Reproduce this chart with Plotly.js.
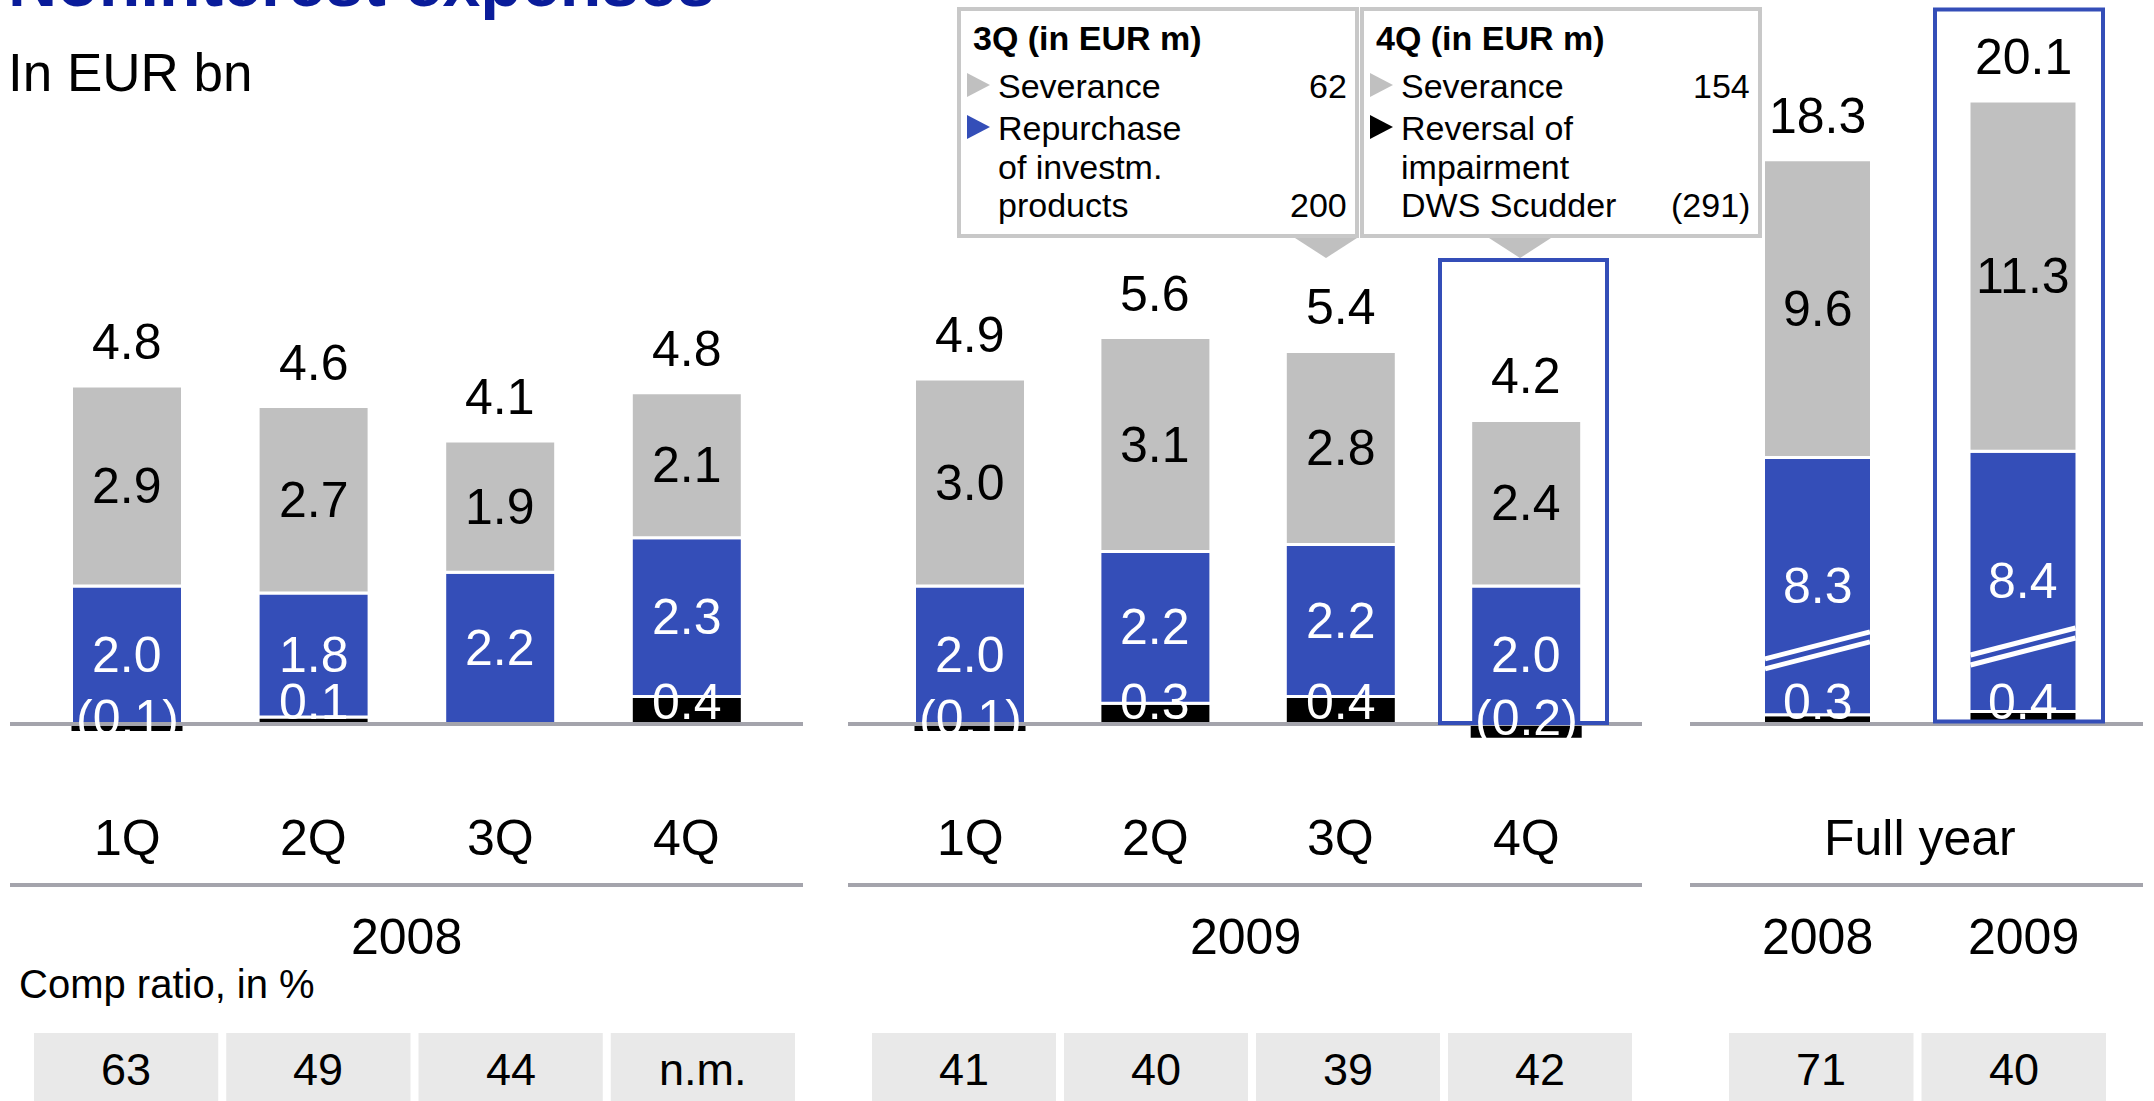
<!DOCTYPE html>
<html><head><meta charset="utf-8">
<script src="https://cdn.plot.ly/plotly-3.0.1.min.js"></script>
<style>html,body{margin:0;padding:0;background:#fff;overflow:hidden}</style>
</head><body><div id="chart" style="width:2154px;height:1101px"></div>
<script>
// ---------------- data ----------------
const quarters = ['1Q', '2Q', '3Q', '4Q'];
const fyYears = ['2008', '2009'];
const fyLabel = 'Full year';

const other2008 = [-0.1, 0.1, 0, 0.4];   // black segment
const comp2008  = [2.0, 1.8, 2.2, 2.3];  // blue segment
const gray2008  = [2.9, 2.7, 1.9, 2.1];  // grey segment
const total2008 = [4.8, 4.6, 4.1, 4.8];

const other2009 = [-0.1, 0.3, 0.4, -0.2];
const comp2009  = [2.0, 2.2, 2.2, 2.0];
const gray2009  = [3.0, 3.1, 2.8, 2.4];
const total2009 = [4.9, 5.6, 5.4, 4.2];

const otherFY = [0.3, 0.4];
const compFY  = [8.3, 8.4];
const grayFY  = [9.6, 11.3];
const totalFY = [18.3, 20.1];

const compRatio2008 = ['63', '49', '44', 'n.m.'];
const compRatio2009 = ['41', '40', '39', '42'];
const compRatioFY   = ['71', '40'];

const note3QTitle  = '3Q (in EUR m)';
const note3QLabels = ['Severance', 'Repurchase', 'of investm.', 'products'];
const note3QValues = ['62', '', '', '200'];
const note4QTitle  = '4Q (in EUR m)';
const note4QLabels = ['Severance', 'Reversal of', 'impairment', 'DWS Scudder'];
const note4QValues = ['154', '', '', '(291)'];

// ---------------- style / layout constants ----------------
const FONT = 'Liberation Sans, Arial, Helvetica, sans-serif';
const BLUE = '#344EB8', GRAY = '#C0C0C0', BLACK = '#000000', RULE = '#A4A4AC';
const BOXGRAY = '#E9E9E9', NOTEGRAY = '#C8C8C8', TITLEBLUE = '#0A1C9A';
const W = 2154, H = 1101, ZERO = 724, QPX = 69, FYPX = 31;
const X = p => p / W, Y = p => 1 - p / H;

const panels = [
  {cats: quarters, other: other2008, comp: comp2008, rest: gray2008, total: total2008, ratio: compRatio2008,
   xa: 'x', ya: 'y', L: 10, R: 803, c0: 127, step: 186.6, barPx: 111, unit: QPX, boxL: 34, boxR: 795},
  {cats: quarters, other: other2009, comp: comp2009, rest: gray2009, total: total2009, ratio: compRatio2009,
   xa: 'x2', ya: 'y', L: 848, R: 1642, c0: 970, step: 185.4, barPx: 111, unit: QPX, boxL: 872, boxR: 1632},
  {cats: fyYears, other: otherFY, comp: compFY, rest: grayFY, total: totalFY, ratio: compRatioFY,
   xa: 'x3', ya: 'y2', L: 1690, R: 2143, c0: 1817.5, step: 205.5, barPx: 108, unit: FYPX, boxL: 1729, boxR: 2106}
];

const fmt = v => v < 0 ? '(' + Math.abs(v).toFixed(1) + ')' : v.toFixed(1);
const txt = (text, x, y, size, color, extra) => Object.assign({
  text: text, x: x, y: y, showarrow: false, xanchor: 'center', yanchor: 'middle',
  font: {family: FONT, size: size, color: color || '#000'}
}, extra || {});

const traces = [];
const annotations = [];
const shapes = [];
const layout = {
  width: W, height: H, margin: {l: 0, r: 0, t: 0, b: 0, pad: 0},
  paper_bgcolor: '#fff', plot_bgcolor: 'rgba(0,0,0,0)',
  barmode: 'relative', showlegend: false, hovermode: false,
  yaxis: {domain: [0, 1], range: [-(H - ZERO) / QPX, ZERO / QPX], visible: false, anchor: 'x', fixedrange: true},
  yaxis2: {domain: [0, 1], range: [-(H - ZERO) / FYPX, ZERO / FYPX], visible: false, anchor: 'x3', fixedrange: true}
};

panels.forEach((p, k) => {
  const axName = p.xa === 'x' ? 'xaxis' : 'xaxis' + p.xa.slice(1);
  const r0 = -(p.c0 - p.L) / p.step;
  layout[axName] = {domain: [X(p.L), X(p.R)], range: [r0, r0 + (p.R - p.L) / p.step], type: 'category',
    categoryorder: 'array', categoryarray: p.cats, visible: false, anchor: p.ya, fixedrange: true};
  const w = p.barPx / p.step;
  [[p.other, BLACK], [p.comp, BLUE], [p.rest, GRAY]].forEach(([vals, col]) => {
    traces.push({type: 'bar', x: p.cats, y: vals, xaxis: p.xa, yaxis: p.ya, width: w,
      marker: {color: col, line: {color: '#ffffff', width: vals.map(v => v < 0 ? 0 : 3)}},
      hoverinfo: 'skip', textposition: 'none'});
  });
  // baseline rule (drawn over the bars)
  shapes.push({type: 'line', xref: 'paper', yref: p.ya, x0: X(p.L), x1: X(p.R), y0: 0, y1: 0,
    line: {color: RULE, width: 4}, layer: 'above'});
  // separator rule under category labels
  shapes.push({type: 'line', xref: 'paper', yref: 'paper', x0: X(p.L), x1: X(p.R), y0: Y(885), y1: Y(885),
    line: {color: RULE, width: 4}, layer: 'above'});

  p.cats.forEach((c, i) => {
    const pos = Math.max(p.other[i], 0);
    const ax = {xref: p.xa, yref: p.ya};
    annotations.push(txt(fmt(p.rest[i]), i, pos + p.comp[i] + p.rest[i] / 2, 50, '#000', ax));
    annotations.push(txt(fmt(p.comp[i]), i, pos + p.comp[i] / 2, 50, '#fff', ax));
    if (p.other[i] !== 0) {
      annotations.push(txt(fmt(p.other[i]), i, 0, 50, '#fff', Object.assign({yshift: p.other[i] > 0 ? 22 : 6}, ax)));
    }
    annotations.push(txt(fmt(p.total[i]), i, pos + p.comp[i] + p.rest[i], 50, '#000', Object.assign({yshift: 44}, ax)));
  });

  // category + year labels
  if (k < 2) {
    p.cats.forEach((c, i) => annotations.push(txt(c, i, Y(838), 50, '#000', {xref: p.xa, yref: 'paper'})));
    annotations.push(txt(fyYears[k], X((p.L + p.R) / 2), Y(937), 50, '#000', {xref: 'paper', yref: 'paper'}));
  } else {
    annotations.push(txt(fyLabel, X(p.c0 + 0.5 * p.step), Y(838), 50, '#000', {xref: 'paper', yref: 'paper'}));
    p.cats.forEach((c, i) => annotations.push(txt(c, i, Y(937), 50, '#000', {xref: p.xa, yref: 'paper'})));
    // axis-break marks on the blue segments
    p.cats.forEach((c, i) => {
      const hw = (p.barPx - 3) / 2 / p.step;
      const yc = p.other[i] + p.comp[i] * 0.25;
      const rise = 13.5 / p.unit, gap = 5 / p.unit;
      [-gap, gap].forEach(g => shapes.push({type: 'line', xref: p.xa, yref: p.ya,
        x0: i - hw, x1: i + hw, y0: yc + g - rise, y1: yc + g + rise,
        line: {color: '#ffffff', width: 5}, layer: 'above'}));
    });
  }

  // comp ratio boxes
  const n = p.ratio.length, gapPx = 8;
  const bw = (p.boxR - p.boxL - (n - 1) * gapPx) / n;
  p.ratio.forEach((r, j) => {
    const x0 = p.boxL + j * (bw + gapPx);
    shapes.push({type: 'rect', xref: 'paper', yref: 'paper', x0: X(x0), x1: X(x0 + bw), y0: Y(1033), y1: Y(1105),
      fillcolor: BOXGRAY, line: {width: 0}, layer: 'below'});
    annotations.push(txt(r, X(x0 + bw / 2), Y(1069), 45, '#000', {xref: 'paper', yref: 'paper'}));
  });
});

// headings
annotations.push(txt('<b>Noninterest expenses</b>', X(6), Y(-17.6), 68, TITLEBLUE, {xref: 'paper', yref: 'paper', xanchor: 'left'}));
annotations.push(txt('In EUR bn', X(6), Y(73), 53, '#000', {xref: 'paper', yref: 'paper', xanchor: 'left'}));
annotations.push(txt('Comp ratio, in %', X(17), Y(984), 40, '#000', {xref: 'paper', yref: 'paper', xanchor: 'left'}));

// highlight boxes
shapes.push({type: 'rect', xref: 'paper', yref: 'paper', x0: X(1440), x1: X(1607), y0: Y(260), y1: Y(723),
  line: {color: BLUE, width: 4}, fillcolor: 'rgba(0,0,0,0)', layer: 'above'});
shapes.push({type: 'rect', xref: 'paper', yref: 'paper', x0: X(1935), x1: X(2103), y0: Y(9.5), y1: Y(721.5),
  line: {color: BLUE, width: 4}, fillcolor: 'rgba(0,0,0,0)', layer: 'above'});

// call-out notes
const rowsY = [86, 128, 167, 205];
function note(x0, x1, tipX, title, labels, values, bulletColors) {
  shapes.push({type: 'rect', xref: 'paper', yref: 'paper', x0: X(x0), x1: X(x1), y0: Y(9), y1: Y(236),
    line: {color: NOTEGRAY, width: 4}, fillcolor: '#ffffff', layer: 'above'});
  shapes.push({type: 'path', xref: 'paper', yref: 'paper', layer: 'above', line: {width: 0}, fillcolor: GRAY,
    path: 'M' + X(tipX - 31) + ',' + Y(238) + ' L' + X(tipX + 31) + ',' + Y(238) + ' L' + X(tipX) + ',' + Y(258) + ' Z'});
  annotations.push(txt('<b>' + title + '</b>', X(x0 + 12), Y(38), 34, '#000', {xref: 'paper', yref: 'paper', xanchor: 'left'}));
  const bx = x0 + 8;
  bulletColors.forEach((col, i) => {
    const cy = rowsY[i] - 1;
    shapes.push({type: 'path', xref: 'paper', yref: 'paper', layer: 'above', line: {width: 0}, fillcolor: col,
      path: 'M' + X(bx) + ',' + Y(cy - 12) + ' L' + X(bx + 23) + ',' + Y(cy) + ' L' + X(bx) + ',' + Y(cy + 12) + ' Z'});
  });
  labels.forEach((t, i) => {
    annotations.push(txt(t, X(bx + 29), Y(rowsY[i]), 34, '#000', {xref: 'paper', yref: 'paper', xanchor: 'left'}));
    if (values[i]) annotations.push(txt(values[i], X(x1 - 8), Y(rowsY[i]), 34, '#000', {xref: 'paper', yref: 'paper', xanchor: 'right'}));
  });
}
note(959, 1357, 1326, note3QTitle, note3QLabels, note3QValues, [GRAY, BLUE]);
note(1362, 1760, 1520, note4QTitle, note4QLabels, note4QValues, [GRAY, BLACK]);

layout.annotations = annotations;
layout.shapes = shapes;
Plotly.newPlot('chart', traces, layout, {staticPlot: true, displayModeBar: false});
</script></body></html>
